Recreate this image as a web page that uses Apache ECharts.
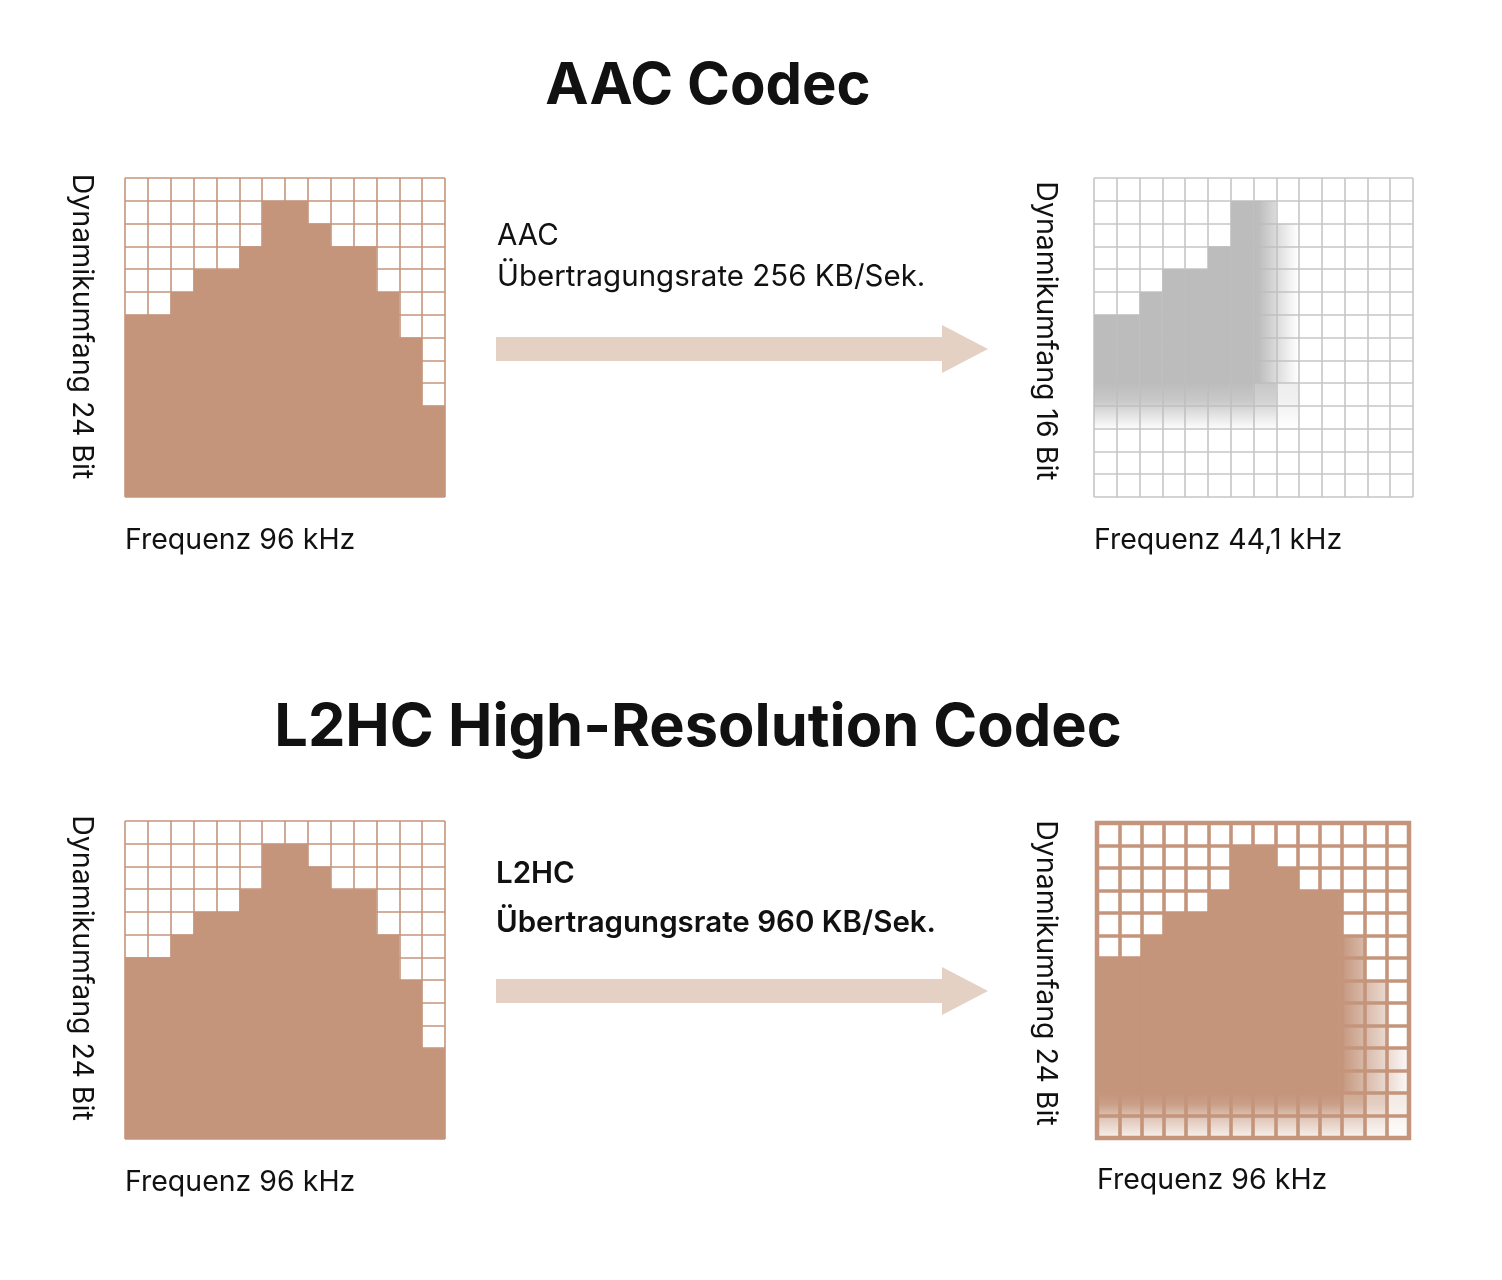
<!DOCTYPE html>
<html><head><meta charset="utf-8">
<script src="https://cdn.jsdelivr.net/npm/echarts@6/dist/echarts.min.js"></script>
<style>html,body{margin:0;padding:0;background:#fff}#c{width:1502px;height:1280px}</style>
</head><body><div id="c"></div>
<script>
// ---------- data ----------
const freqBins = ['1','2','3','4','5','6','7','8','9','10','11','12','13','14'];
// filled rows per frequency column (out of 14) in the 24 bit / 96 kHz source
const sourceLevels = [8, 8, 9, 10, 10, 11, 13, 13, 12, 11, 11, 9, 7, 4];
// AAC output keeps only the low-frequency columns
const aacLevels = [8, 8, 9, 10, 10, 11, 13, 13, 12];
const aacFloor = 3;       // rows lost at the bottom (16 bit)
const aacSoftFloor = 5;   // top of the soft bottom edge
// L2HC output keeps everything
const l2hcLevels = [8, 8, 9, 10, 10, 11, 13, 13, 12, 11, 11, 9, 7, 4];
const l2hcSoftFloor = 2;
const headings = ['AAC Codec', 'L2HC High-Resolution Codec'];
const codecNames = ['AAC', 'L2HC'];
const rateLabels = ['Übertragungsrate 256 KB/Sek.', 'Übertragungsrate 960 KB/Sek.'];
const depthLabels = ['Dynamikumfang 24 Bit', 'Dynamikumfang 16 Bit', 'Dynamikumfang 24 Bit', 'Dynamikumfang 24 Bit'];
const freqLabels = ['Frequenz 96 kHz', 'Frequenz 44,1 kHz', 'Frequenz 96 kHz', 'Frequenz 96 kHz'];

// ---------- styling ----------
const FONT = 'Inter, "Noto Sans", sans-serif';
const BROWN = [196, 149, 123];
const GRAY = [188, 188, 188];
const rgba = (c, a) => `rgba(${c[0]},${c[1]},${c[2]},${a.toFixed(3)})`;
const clamp = v => Math.max(0, Math.min(1, v));
const aacFade = x => clamp((8.95 - x) / (8.95 - 7.2));
const l2hcFade = x => clamp((14.15 - x) / (14.15 - 10.9));
const G = echarts.graphic.LinearGradient;

function hGrad(col, i, fade) {
  const ts = [0, 0.25, 0.5, 0.75, 1];
  if (fade(i) >= 1 && fade(i + 1) >= 1) return rgba(col, 1);
  return new G(0, 0, 1, 0, ts.map(t => ({offset: t, color: rgba(col, fade(i + t))})));
}
function vGrad(col, a, stops) {
  return new G(0, 0, 0, 1, stops.map(s => ({offset: s[0], color: rgba(col, a * s[1])})));
}

const grids = [
  {left: 125, top: 178, width: 320, height: 319},
  {left: 1094, top: 178, width: 319, height: 319},
  {left: 125, top: 821, width: 320, height: 318},
  {left: 1097, top: 823, width: 312, height: 315}
];
const lineCfg = [
  {color: rgba(BROWN, 1), width: 1.6},
  {color: '#c6c6c6', width: 1.6},
  {color: rgba(BROWN, 1), width: 1.6},
  {color: rgba(BROWN, 1), width: 3.6}
];
const nameGaps = [29, 34, 29, 37];
const namePads = [22, 13, 24, 15];
const isSource = i => i === 0 || i === 2;

const xAxes = grids.map((g, i) => Object.assign({
  gridIndex: i,
  axisLine: {show: false}, axisTick: {show: false}, axisLabel: {show: false},
  splitLine: {show: true, interval: 0, showMinLine: true, showMaxLine: true, lineStyle: {color: lineCfg[i].color, width: lineCfg[i].width}},
  name: freqLabels[i], nameLocation: 'start', nameGap: 0,
  nameTextStyle: {align: 'left', verticalAlign: 'top', padding: [i === 3 ? 28 : 29, 0, 0, 0], fontSize: 28.5, fontFamily: FONT, color: '#111'}
}, isSource(i)
  ? {type: 'value', min: 0, max: freqBins.length, interval: 1}
  : {type: 'category', data: freqBins, boundaryGap: true}));
const yAxes = grids.map((g, i) => ({
  gridIndex: i, type: 'value', min: 0, max: 14, interval: 1,
  axisLine: {show: false}, axisTick: {show: false}, axisLabel: {show: false},
  splitLine: {show: true, showMinLine: true, showMaxLine: true, lineStyle: {color: lineCfg[i].color, width: lineCfg[i].width}},
  name: depthLabels[i], nameLocation: 'middle', nameRotate: -90, nameGap: nameGaps[i],
  nameTextStyle: {fontSize: 28.5, fontFamily: FONT, color: '#111', padding: [0, namePads[i], 0, 0]}
}));

const barBase = {type: 'bar', barWidth: '100%', barCategoryGap: '0%', silent: true, animation: false};
const series = [];
// source charts (top-left and bottom-left): one stepped area per chart, column i spans [i, i+1]
const sourceSteps = sourceLevels.map((h, i) => [i, h]).concat([[sourceLevels.length, sourceLevels[sourceLevels.length - 1]]]);
[0, 2].forEach(gi => series.push({
  type: 'line', name: 'Quelle ' + gi, xAxisIndex: gi, yAxisIndex: gi, step: 'end',
  data: sourceSteps, symbol: 'none', silent: true, animation: false,
  lineStyle: {width: 0, opacity: 0},
  areaStyle: {color: rgba(BROWN, 1), opacity: 1}
}));
// AAC output
series.push(Object.assign({}, barBase, {
  name: 'AAC floor', xAxisIndex: 1, yAxisIndex: 1, stack: 'aac',
  data: aacLevels.map(() => aacFloor), itemStyle: {color: 'rgba(0,0,0,0)'}
}));
series.push(Object.assign({}, barBase, {
  name: 'AAC soft', xAxisIndex: 1, yAxisIndex: 1, stack: 'aac',
  data: aacLevels.map((h, i) => ({value: aacSoftFloor - aacFloor, itemStyle: {
    color: vGrad(GRAY, aacFade(i + 0.5), [[0, 1], [0.4, 0.8], [1, 0.04]])}}))
}));
series.push(Object.assign({}, barBase, {
  name: 'AAC', xAxisIndex: 1, yAxisIndex: 1, stack: 'aac',
  data: aacLevels.map((h, i) => {
    const c = hGrad(GRAY, i, aacFade);
    return {value: h - aacSoftFloor, itemStyle: typeof c === 'string' ? {color: c, borderColor: c, borderWidth: 1} : {color: c}};
  })
}));
// L2HC output
series.push(Object.assign({}, barBase, {
  name: 'L2HC soft', xAxisIndex: 3, yAxisIndex: 3, stack: 'l2hc',
  data: l2hcLevels.map((h, i) => ({value: l2hcSoftFloor, itemStyle: {
    color: vGrad(BROWN, l2hcFade(i + 0.5), [[0, 1], [0.25, 0.9], [0.5, 0.6], [1, 0.12]])}}))
}));
series.push(Object.assign({}, barBase, {
  name: 'L2HC', xAxisIndex: 3, yAxisIndex: 3, stack: 'l2hc',
  data: l2hcLevels.map((h, i) => {
    const c = hGrad(BROWN, i, l2hcFade);
    return {value: h - l2hcSoftFloor, itemStyle: typeof c === 'string' ? {color: c, borderColor: c, borderWidth: 2} : {color: c}};
  })
}));

function arrow(yc) {
  return {type: 'polygon', silent: true, shape: {points: [
    [496, yc - 12], [942, yc - 12], [942, yc - 24], [988, yc], [942, yc + 24], [942, yc + 12], [496, yc + 12]]},
    style: {fill: '#e4d1c4'}};
}
function txt(x, y, s, size, weight, align) {
  return {type: 'text', x: x, y: y, silent: true, style: {text: s, fontSize: size, fontWeight: weight,
    fontFamily: FONT, fill: '#111', textAlign: align || 'left', textVerticalAlign: 'middle'}};
}

const chart = echarts.init(document.getElementById('c'), null, {renderer: 'canvas'});
chart.setOption({
  backgroundColor: '#fff',
  animation: false,
  grid: grids.map((g, i) => Object.assign({show: i === 3, borderColor: rgba(BROWN, 1), borderWidth: 4.5, backgroundColor: 'transparent'}, g)),
  xAxis: xAxes,
  yAxis: yAxes,
  series: series,
  graphic: [
    txt(708, 87, headings[0], 58, 'bold', 'center'),
    txt(698, 728, headings[1], 59.5, 'bold', 'center'),
    txt(497, 236, codecNames[0], 29.5, 'normal'),
    txt(497, 277, rateLabels[0], 29.5, 'normal'),
    txt(496, 874, codecNames[1], 29.5, 600),
    txt(496, 923, rateLabels[1], 29.5, 600),
    arrow(349),
    arrow(991)
  ]
});
</script></body></html>
